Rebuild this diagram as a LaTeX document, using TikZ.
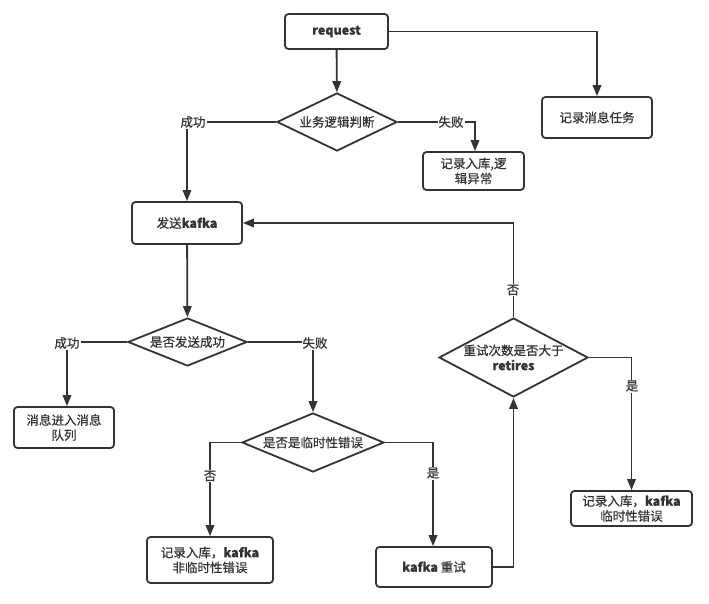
\documentclass[tikz,border=0pt]{standalone}
\usepackage{fontspec}
\setmainfont{Noto Sans CJK SC}[FakeBold=0.6]
\usetikzlibrary{shapes.geometric,arrows.meta}
\definecolor{ink}{HTML}{333333}
\begin{document}
\begin{tikzpicture}[x=1pt,y=-1pt,
  every node/.style={font=\fontsize{12.5}{15}\selectfont, text=ink},
  box/.style={draw=ink, line width=1.8pt, rounded corners=3.5pt, inner sep=0pt, align=center},
  dia/.style={draw=ink, line width=1.8pt, diamond, inner sep=0pt, align=center},
  conn/.style={draw=ink, line width=1.8pt},
  arr/.style={conn, -{Triangle[length=11pt,width=8.5pt]}},
  lbl/.style={fill=white, inner sep=1pt}]
\useasboundingbox (0,0) rectangle (709,604);

% boxes
\node[box, minimum width=103pt, minimum height=35pt] (req) at (336.5,31.5) {\textbf{request}};
\node[box, minimum width=110pt, minimum height=41pt] (task) at (597,117.5) {记录消息任务};
\node[box, minimum width=101pt, minimum height=38pt] (logic) at (473.5,171) {记录入库,逻\\辑异常};
\node[box, minimum width=110pt, minimum height=42pt] (kafka) at (187,223) {发送\textbf{kafka}};
\node[box, minimum width=100pt, minimum height=41pt] (mq) at (64,427.5) {消息进入消息\\队列};
\node[box, minimum width=126pt, minimum height=46pt] (nontemp) at (210,560) {记录入库，\textbf{kafka}\\非临时性错误};
\node[box, minimum width=116pt, minimum height=40pt] (retry) at (434,567) {\textbf{kafka} 重试};
\node[box, minimum width=121pt, minimum height=35pt] (temp) at (631.5,508.5) {记录入库，\textbf{kafka}\\临时性错误};

% diamonds
\node[dia, minimum width=120pt, minimum height=58pt, label=center:{业务逻辑判断}] (d1) at (337,122) {};
\node[dia, minimum width=119pt, minimum height=48pt, label=center:{是否发送成功}] (d2) at (187.5,342) {};
\node[dia, minimum width=142pt, minimum height=59pt, label=center:{是否是临时性错误}] (d3) at (313,442.5) {};
\node[dia, minimum width=149pt, minimum height=79pt, label={[align=center]center:{重试次数是否大于\\\textbf{retires}}}] (d4) at (513.5,357.5) {};

% connectors
\draw[arr] (req) -- (d1);
\draw[arr] (req.east) -| (task.north);
\draw[arr] (d1.west) -| (kafka.north);
\draw[arr] (d1.east) -| ([xshift=1.5pt]logic.north);
\draw[arr] (kafka) -- (d2);
\draw[arr] (d2.west) -| ([xshift=3pt]mq.north);
\draw[arr] (d2.east) -| (d3.north);
\draw[arr] (d3.west) -| (nontemp.north);
\draw[arr] (d3.east) -| ([xshift=-1pt]retry.north);
\draw[arr] (retry.east) -| (d4.south);
\draw[arr] (d4.north) |- (kafka.east);
\draw[arr] (d4.east) -| (temp.north);

% labels
\node[lbl] (l1) at (193,122) {成功};
\node[lbl] (l2) at (451,122) {失败};
\node[lbl] (l3) at (67,343) {成功};
\node[lbl] (l4) at (315,343) {失败};
\node[lbl] (l5) at (210,476) {否};
\node[lbl] (l6) at (433,473) {是};
\node[lbl] (l7) at (513,290) {否};
\node[lbl] (l8) at (632,386) {是};
\end{tikzpicture}
\end{document}
